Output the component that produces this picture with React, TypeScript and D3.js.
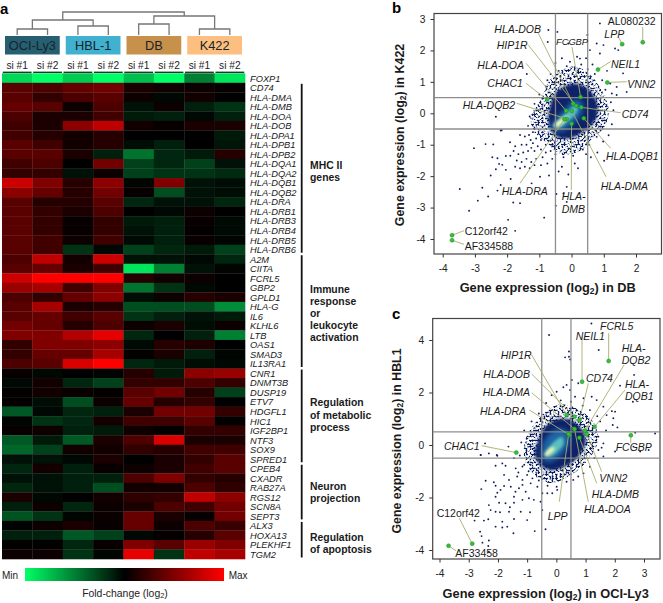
import React, { useEffect, useRef } from 'react';
import * as d3 from 'd3';

type Pt = [number, number];

const columns = ['si #1', 'si #2', 'si #1', 'si #2', 'si #1', 'si #2', 'si #1', 'si #2'];
const cellLines = ['OCI-Ly3', 'HBL-1', 'DB', 'K422'];
const cellLineColors = ['#265f72', '#40b1cf', '#c8914b', '#fcbf80'];

const genes = [
  'FOXP1', 'CD74', 'HLA-DMA', 'HLA-DMB', 'HLA-DOA', 'HLA-DOB', 'HLA-DPA1', 'HLA-DPB1', 'HLA-DPB2', 'HLA-DQA1',
  'HLA-DQA2', 'HLA-DQB1', 'HLA-DQB2', 'HLA-DRA', 'HLA-DRB1', 'HLA-DRB3', 'HLA-DRB4', 'HLA-DRB5', 'HLA-DRB6',
  'A2M', 'CIITA', 'FCRL5', 'GBP2', 'GPLD1', 'HLA-G', 'IL6', 'KLHL6', 'LTB', 'OAS1', 'SMAD3', 'IL13RA1',
  'CNR1', 'DNMT3B', 'DUSP19', 'ETV7', 'HDGFL1', 'HIC1', 'IGF2BP1', 'NTF3', 'SOX9', 'SPRED1',
  'CPEB4', 'CXADR', 'RAB27A', 'RGS12', 'SCN8A', 'SEPT3', 'ALX3', 'HOXA13', 'PLEKHF1', 'TGM2',
];

// fold change in tenths of the colour range, red positive, green negative
const foldChange = [
  [-8.5, -10, -8, -10, -7.5, -10, -5, -9],
  [3.5, 3, 4, 4.5, 1, 0.7, 0.5, 0.3],
  [3.5, 2, 3, 3.5, 0.5, -0.3, 0.7, 0],
  [4, 3.5, 0.5, 3, -0.7, 0.5, -1.2, -2],
  [3, 1, 1, 2.5, -1, -1.2, -0.3, -1.2],
  [2.5, 1, 5.5, 7.5, 0.7, 0.3, 1, 1],
  [2.5, 1.5, 0.7, 1.5, 0, 0, 0, -1],
  [3.5, 2.5, 0.7, 1.5, -0.5, -1.2, 0, -0.8],
  [3.5, 3.5, 1, -1.2, -4.5, -1.5, -1, 1.5],
  [2.5, 3, 0, 4.5, -2.5, -1.5, -2.5, -0.7],
  [2, 2, -0.7, 0.5, -2.5, -2, -2, -1.7],
  [8, 5, 1.5, 5.5, -0.2, 5, -0.7, -0.5],
  [5.5, 4, 1.5, 4.5, 0.3, -3, -0.7, -0.5],
  [3.5, 1.5, 1.5, 3.5, -1.5, -0.7, -0.7, -1.5],
  [3.5, 2, 1, 3, 0, -0.3, 0.5, 0],
  [3.5, 2, 0.3, 2, -1, -1.2, 0.3, -0.4],
  [3.5, 2, 0.3, 2, -0.7, -1.2, 0.2, -0.4],
  [3.5, 2.5, 0.5, 2.5, -0.4, -1.2, 0.3, -0.2],
  [3.5, 2.5, -2, -0.3, -2.5, -1.5, -1, -2.5],
  [3, 7.5, 0.7, 8, -0.7, -0.7, -0.3, -1.5],
  [3.5, 4, 1, 2.5, -9, -5, -0.7, -0.2],
  [8, 10, 10, 10, 1.5, 0.7, 0.5, 0],
  [6, 6.5, 2.5, 5, -4.5, -2, -0.3, 0],
  [3, 2, 4, 5.5, -0.5, 0.5, 1.5, 1],
  [3.5, 6.5, 1, 1.5, -3, -3, -3, -5.5],
  [3.5, 4, 2.5, 3.5, -2, -1.2, -0.7, -1],
  [4.5, 4, 1.5, 3, 0.5, 1, -0.5, 0.5],
  [5, 5, 7, 9, -1.5, 0, -1.2, -5],
  [2, 5, 5, 5.5, -0.4, 1.5, 1.2, 0],
  [2, 4, 4, 6.5, 0.2, 1, -1.2, -0.2],
  [3, 3.5, 8.5, 10, -1.5, -1, -0.5, -0.3],
  [0.3, -0.3, 0, -0.2, 1.5, -1, 5.5, 6],
  [-0.3, 0.7, -1.5, -2.5, 2, 2, 3, 2],
  [0.1, 0.7, 0.4, 0.1, 3.5, 4.5, 1.5, -2.5],
  [0.2, -0.5, -3, 0.5, 4, 1.5, 2, 0],
  [-3.5, -0.3, -1.5, -1.2, 1, 4.5, 4.5, 2],
  [-0.2, -2, -1.5, 0.7, 2.5, 2.5, 3.5, 0.2],
  [0.3, 0.6, -1.2, -1, 0.6, 0.1, 2, 2],
  [-3.5, -1, -3.5, 1, 3, 8.5, 1, 1],
  [-4, -2.5, 0.7, 0.7, 2, 1.5, 2.5, 2.5],
  [-0.7, -0.7, -0.3, 1, 0, 1, 2, 3.5],
  [-1.5, 0.7, -1.2, 0.3, 0.5, 1, 2.5, 3.5],
  [-0.7, -0.7, -1.2, -1.2, 3, 5, 2, 1.5],
  [-1.5, -0.7, -1.2, -3, 0.7, 0.7, 3, 1.8],
  [1, -0.3, 0, 0.7, 1.8, 2, 7.5, 5.5],
  [-1.2, 0.5, -1.5, 0.5, 1, 3, 2.5, 4.5],
  [-3.2, -2, -0.2, 0.4, 4, 1, 0.3, 4.5],
  [-0.1, 0.5, 1, 0.3, 4, 0.5, 3, 2.2],
  [-1.2, -1.2, -3.5, -2.5, -0.3, 0.2, 1.5, 3.5],
  [0.1, 0.1, -1.5, 0.3, 5, 3.5, 6, 5],
  [0.5, 0.5, -2, -0.2, 9, -2, 7.5, 6.5],
];

// merges of the column dendrogram: [left, right, height]; leaves are 0-7, merged nodes continue from 8
const merges = [
  [0, 1, 6],
  [2, 3, 9],
  [4, 5, 11],
  [6, 7, 6],
  [8, 9, 15],
  [10, 11, 19],
  [12, 13, 23],
];

const groups = [
  { first: 'CD74', last: 'HLA-DRB6', lines: ['MHC II', 'genes'] },
  { first: 'A2M', last: 'IL13RA1', lines: ['Immune', 'response', 'or', 'leukocyte', 'activation'] },
  { first: 'CNR1', last: 'SPRED1', lines: ['Regulation', 'of metabolic', 'process'] },
  { first: 'CPEB4', last: 'SEPT3', lines: ['Neuron', 'projection'] },
  { first: 'ALX3', last: 'TGM2', lines: ['Regulation', 'of apoptosis'] },
];
// how far each group's text sits below the middle of its bracket, in pixels
const groupTextShift = [3, 2, -1, 0, 3.5];

// density bands of the two clouds, outer to inner, read as outlines in log2 units
const cloudColors = ['#0c1f5e', '#0d2468', '#1f66a6', '#5cc0bd', '#f6f3b4'];
const cloudB: Pt[][] = [
  [[0.06, 1.5], [0.55, 1.25], [0.95, 0.7], [1.15, 0.15], [1.05, -0.38], [0.68, -0.78], [0.18, -1.25], [-0.38, -1.3], [-0.75, -0.95], [-1.15, -0.6], [-1.28, -0.16], [-0.95, 0.45], [-0.6, 1.15]],
  [[-0.45, 0.7], [0.1, 0.95], [0.55, 0.75], [0.8, 0.3], [0.75, -0.2], [0.35, -0.6], [-0.1, -0.8], [-0.45, -0.75], [-0.7, -0.4], [-0.7, 0.1]],
  [[-0.62, -0.5], [-0.5, -0.18], [-0.2, 0.12], [0.08, 0.42], [0.3, 0.38], [0.35, 0.12], [0.18, -0.2], [-0.05, -0.42], [-0.3, -0.58]],
  [[-0.58, -0.42], [-0.4, -0.22], [-0.15, 0.02], [0.1, 0.25], [0.2, 0.14], [0.08, -0.08], [-0.15, -0.28], [-0.4, -0.47]],
  [[-0.55, -0.38], [-0.4, -0.24], [-0.2, -0.1], [-0.1, -0.12], [-0.25, -0.3], [-0.42, -0.42]],
];
const cloudC: Pt[][] = [
  [[0.18, 1.55], [0.85, 1.3], [1.3, 0.82], [1.42, 0.13], [1.05, -0.62], [0.45, -1.18], [-0.22, -1.45], [-0.8, -1.1], [-1.1, -0.47], [-1.04, 0.27], [-0.68, 0.9], [-0.24, 1.38]],
  [[-0.65, 0.1], [-0.45, 0.6], [-0.05, 0.95], [0.5, 0.95], [0.9, 0.55], [1, 0.05], [0.7, -0.5], [0.25, -0.85], [-0.25, -0.95], [-0.6, -0.7], [-0.75, -0.3]],
  [[-0.5, -0.5], [-0.5, -0.1], [-0.3, 0.35], [0, 0.6], [0.35, 0.55], [0.45, 0.15], [0.25, -0.3], [-0.1, -0.6], [-0.35, -0.65]],
  [[-0.4, -0.4], [-0.25, -0.1], [0, 0.2], [0.2, 0.3], [0.25, 0.05], [0.05, -0.25], [-0.2, -0.45]],
  [[-0.4, -0.38], [-0.3, -0.2], [-0.12, -0.08], [-0.05, -0.15], [-0.2, -0.32], [-0.32, -0.42]],
];

const dotsB: Pt[] = [
  [-2.2, -0.55], [-3.03, -1.11], [-2.67, -0.98], [-2.43, -0.99], [-1.91, -0.92], [-2.04, -1.36], [-2.46, -1.4], [-2.3, -1.43], [-2.25, -1.61], [-2.35, -1.78],
  [-2.51, -1.98], [-2.15, -1.64], [-2.04, -1.8], [-1.89, -2.09], [-2.2, -2.28], [-2.77, -2.37], [-3.47, -2.41], [-2.3, -2.46], [-2.59, -2.65], [-2.91, -2.78],
  [-3.18, -3.1], [-1.81, -2.84], [-1.6, -2.86], [-1.97, -3.39], [-0.85, -3.32], [-1.75, -3.74], [-1.24, -2.23], [-0.98, -2.02], [-0.7, -1.98], [-0.47, -2.57],
  [-0.49, -2.94], [-1.6, -0.69], [-1.45, -0.74], [-1.32, -0.69], [-1.27, -0.85], [-1.2, -0.95], [-1.1, -0.8], [-1.4, -1], [-1.55, -1], [-1.75, -1.05],
  [-1.8, -1.2], [-1.65, -1.3], [-1.5, -1.25], [-1.35, -1.2], [-1.25, -1.1], [-1.15, -1.2], [-1.05, -1.05], [-0.95, -1.15], [-1.9, -1.35], [-1.7, -1.5],
  [-1.55, -1.55], [-1.4, -1.45], [-1.25, -1.55], [-1.45, -1.7], [-1.6, -1.75], [-1.3, -1.75], [-1.1, -1.45], [-0.9, -1.4], [-0.75, -1.6], [-0.95, -1.65],
  [-0.6, -1.45], [-0.8, -1.25], [-0.65, -1.2], [-1.75, -1.7], [-1.15, -1.65], [0.88, 2.86], [-0.72, 2.65], [-0.44, 2.59], [0.49, 2.49], [-0.74, 2.27],
  [-0.1, 2.22], [0.78, 2.22], [0.99, 2.17], [0.57, 2.01], [1.35, 2.06], [1.45, 2.01], [0.88, 1.9], [0.26, 1.74], [0.17, 1.8], [-0.05, 1.64],
  [1.6, 1.27], [1.71, 0.68], [1.4, 0.84], [1.25, 0.63], [1.4, 0.58], [-1.39, 1.25], [-2.35, -0.11], [-2.17, -0.54], [-0.15, -2.34], [-0.25, -2.55],
  [-0.15, -2.82], [1.01, -1.51], [0.6, -1.4], [0.8, -1.25], [0.98, -0.9], [1.15, -0.7], [1.25, -0.35], [1.3, 0.1], [1.22, 0.35], [1.05, 0.75],
  [0.95, 1.05], [0.72, 1.25], [0.5, 1.4], [0.3, 1.55], [-0.15, 1.5], [-0.4, 1.35], [-0.65, 1.25], [-0.8, 0.85], [-1, 0.6], [-1.15, 0.3],
  [-1.3, -0.1], [-1.35, -0.4], [-1.2, -0.6], [-0.95, -0.85], [-0.8, -1], [-0.5, -1.3], [-0.25, -1.4], [0.05, -1.35], [0.35, -1.15], [0.55, -1],
  [0.78, -0.75], [0.1, -1.6], [-0.3, -1.7], [-0.1, -1.95], [-0.4, -1.85], [0.2, -1.75], [0.45, -1.3], [-0.6, -1.05], [-1.02, 0.1], [-0.75, 1.05],
  [0.2, 1.35], [0.65, 1.55], [1.1, 1.35], [1.2, 0.95], [0.45, 1.75], [-0.3, 1.75], [-0.5, 1.6],
];

const dotsC: Pt[] = [
  [-2.59, -0.38], [-2.31, -0.32], [-2.02, -0.41], [-2.08, -0.79], [-1.85, -0.7], [-1.74, -0.79], [-2.42, -1.36], [-2.14, -1.42], [-2.08, -1.55], [-2.57, -1.68],
  [-1.79, -1.14], [-1.62, -1.33], [-1.79, -1.56], [-1.91, -1.71], [-2.02, -1.82], [-2.08, -1.97], [-1.45, -1.97], [-1.56, -1.59], [-1.28, -1.65], [-1.16, -1.52],
  [-1.05, -1.78], [-1.4, -1.78], [-1.74, -2.22], [-1.45, -2.2], [-1.96, -2.2], [-2.31, -2.29], [-2.25, -2.48], [-2.08, -2.54], [-1.93, -2.56], [-1.59, -2.37],
  [-1.62, -2.54], [-1.22, -2.54], [-0.9, -2.56], [-2.8, -2.88], [-2.48, -2.88], [-2.33, -2.83], [-1.85, -2.92], [-1.45, -2.82], [-1, -2.86], [-2.08, -3.11],
  [-1.85, -3.14], [-1.68, -3.11], [-1.47, -3.36], [-0.74, -3.28], [-0.37, -3.21], [-2.61, -3.3], [-2.56, -3.47], [-2.53, -3.72], [-2.31, -3.64], [-2.33, -3.85],
  [-2.31, -4.06], [-0.48, -2.48], [-0.77, -2.09], [-0.54, -2.16], [-0.94, -2.03], [-1.16, -2.09], [-1.39, -0.89], [-1.16, -0.82], [-1.34, -1.2], [-1.16, -1.33],
  [-1, -1.14], [-0.82, -1.27], [-0.65, -1.59], [-0.88, -1.46], [-0.31, -1.84], [-0.48, -1.84], [-0.14, -1.84], [0.03, -1.71], [1.2, 4.63], [-0.25, 4.19],
  [0.43, 3.56], [0.43, 3.36], [0.47, 3.26], [0.3, 3.34], [1.45, 3.62], [2.66, 2.67], [2.18, 2.26], [2.62, 1.65], [2.01, 1.27], [1.9, 1.29],
  [1.72, 1.14], [1.95, 1.02], [1.93, 0.76], [2.09, 0.67], [3.38, 0.44], [2.7, 0.47], [2.64, -0.06], [2.01, -0.25], [2.87, -0.25], [3.16, -0.19],
  [1.44, -0.19], [1.61, -0.44], [-2.44, 0.06], [-2.59, -0.38], [-2.04, -0.38], [-1.64, -0.06], [0.75, 2.35], [0.53, 2.48], [0.35, 2.29], [0.24, 2.2],
  [0.01, 2.03], [-0.16, 1.9], [0.47, 2.1], [0.64, 1.84], [0.93, 1.78], [1.21, 1.84], [1.38, 1.71], [1.61, 1.46], [1.15, 1.33], [1.44, 0.32],
  [1.61, 0.06], [1.15, -0.83], [0.93, -1.08], [0.58, -1.33], [0.35, -1.4], [0.01, -1.59], [0.75, -1.2], [1.3, -0.5], [1.5, 0.9], [1.4, 1.1],
  [0.9, 1.5], [0.5, 1.65], [0.15, 1.7], [-0.35, 1.6], [-0.6, 1.2], [-0.85, 0.9], [-1.1, 0.55], [-1.2, 0.1], [-1.25, -0.4], [-1.1, -0.75],
  [-0.95, -1], [-0.6, -1.35], [-0.3, -1.55], [-1.3, -1.05], [-1.45, -0.5], [1.7, 0.55], [1.55, -0.1],
];

const namedB: [string, number, number][] = [
  ['AL080232', 2.21, 2.26], ['LPP', 1.57, 2.2], ['NEIL1', 0.82, 1.39], ['VNN2', 1.11, 0.98], ['FCGBP', 0.28, 0.52],
  ['CHAC1', -0.76, 0.43], ['HLA-DOB', 0.05, 0.31], ['HIP1R', 0.14, 0.24], ['CD74', 0.3, 0.19], ['HLA-DOA', -0.17, 0.08],
  ['HLA-DMA', 0.01, 0.07], ['HLA-DQB1', 0.38, -0.16], ['HLA-DQB2', -0.15, -0.18], ['HLA-DRA', -0.22, -0.19], ['HLA-DMB', 0, -0.33],
  ['C12orf42', -3.71, -3.88], ['AF334588', -3.71, -4.04],
];
const namedC: [string, number, number][] = [
  ['FCRL5', 1.79, 3.2], ['NEIL1', 0.88, 2.41], ['HIP1R', 0.35, 1.14], ['HLA-DOB', 0.62, 1.08], ['CD74', 0.79, 0.95],
  ['HLA-DMA', 0.62, 0.61], ['HLA-DOA', 0.62, 0.61], ['HLA-DQB1', 1.31, 0.7], ['HLA-DQB2', 0.98, 0.55], ['VNN2', 1.04, 0.42],
  ['HLA-DRA', 0.45, 0.38], ['LPP', 0.42, 0.42], ['HLA-DMB', 0.79, 0.28], ['FCGBP', 2.55, 0.37], ['CHAC1', -1.37, -0.29],
  ['C12orf42', -2.88, -3.76], ['AF33458', -3.69, -3.84],
];

// annotation layout, page pixels: where each leader ends and the centre line of the label text
type Note = { gene: string; end: Pt; at: Pt; lines?: string[]; upright?: boolean; size?: number };
const notesB: Note[] = [
  { gene: 'AL080232', end: [642.7, 27], at: [607.7, 21.5], upright: true },
  { gene: 'LPP', end: [619, 38], at: [604.3, 34.5] },
  { gene: 'NEIL1', end: [610.7, 61.5], at: [611, 64] },
  { gene: 'VNN2', end: [626.7, 81.7], at: [627.3, 84] },
  { gene: 'FCGBP', end: [572, 47], at: [556, 41], size: 9.3 },
  { gene: 'HLA-DOB', end: [538.3, 33.3], at: [494.3, 29] },
  { gene: 'HIP1R', end: [528.3, 45], at: [496.7, 45.7] },
  { gene: 'HLA-DOA', end: [526, 63.3], at: [477.3, 65] },
  { gene: 'CHAC1', end: [526, 83.3], at: [487.3, 83.3] },
  { gene: 'HLA-DQB2', end: [516.7, 103.3], at: [462.7, 105] },
  { gene: 'CD74', end: [620.7, 112.7], at: [621.7, 114.3] },
  { gene: 'HLA-DQB1', end: [610.7, 148.3], at: [606, 156.7] },
  { gene: 'HLA-DMA', end: [606, 176.7], at: [600.7, 186] },
  { gene: 'HLA-DMB', end: [571.3, 190], at: [561.7, 196.7], lines: ['HLA-', 'DMB'] },
  { gene: 'HLA-DRA', end: [520, 183.3], at: [501.7, 191.7] },
  { gene: 'C12orf42', end: [464, 230.7], at: [464.7, 231], upright: true },
  { gene: 'AF334588', end: [464, 244.3], at: [464.7, 246.3], upright: true },
];
const notesC: Note[] = [
  { gene: 'FCRL5', end: [608.7, 333.3], at: [600, 326] },
  { gene: 'NEIL1', end: [582, 336.7], at: [575.7, 336.7] },
  { gene: 'HLA-DQB2', end: [624, 365], at: [621.7, 348.3], lines: ['HLA-', 'DQB2'] },
  { gene: 'HIP1R', end: [531.7, 355], at: [500.7, 355] },
  { gene: 'HLA-DOB', end: [531.7, 374], at: [483.3, 374] },
  { gene: 'CD74', end: [588.3, 383.3], at: [586, 378.7] },
  { gene: 'HLA-DQB1', end: [625, 390], at: [625, 384], lines: ['HLA-', 'DQB1'] },
  { gene: 'HLA-DMA', end: [531.7, 392.7], at: [482.7, 392.7] },
  { gene: 'HLA-DRA', end: [529.3, 410], at: [480, 411.3] },
  { gene: 'CHAC1', end: [481.7, 445.7], at: [444, 446.7] },
  { gene: 'FCGBP', end: [630.7, 443], at: [615.7, 447.7] },
  { gene: 'VNN2', end: [601.7, 471.7], at: [599.3, 478.3] },
  { gene: 'HLA-DMB', end: [596.7, 483.3], at: [591.7, 494.3] },
  { gene: 'HLA-DOA', end: [588.3, 501.7], at: [584, 509.3] },
  { gene: 'LPP', end: [559.3, 501.7], at: [547.7, 516] },
  { gene: 'C12orf42', end: [459.3, 518.3], at: [436.7, 513.3], upright: true },
  { gene: 'AF33458', end: [456, 550.7], at: [455.3, 553.3], upright: true },
];

const FONT = '"Liberation Sans", Arial, sans-serif';
const heat = d3.scaleLinear<string>().domain([-10, 0, 10]).range(['#00ff66', '#000000', '#ff0000']);

const Log2Title = ({ pre, post, ...rest }: any) => (
  <text fontFamily={FONT} fontWeight="bold" textAnchor="middle" fill="#1a1a1a" {...rest}>
    {pre}
    <tspan fontSize={8.5} dy={2}>2</tspan>
    <tspan dy={-2}>{post}</tspan>
  </text>
);

const Heatmap = () => {
  const x = d3.scaleBand<number>().domain(d3.range(columns.length)).range([2, 245]);
  const y = d3.scaleBand<string>().domain(genes.slice(1)).range([82.8, 559]);
  const foxY = d3.scaleBand<string>().domain(['FOXP1']).range([73.3, 82.8]);
  const rowY = (g: string) => (g === 'FOXP1' ? (foxY(g) as number) : (y(g) as number));
  const rowH = y.bandwidth();
  const dendY = d3.scaleLinear().domain([0, 23]).range([35, 12]);

  const nodes: { x: number; h: number }[] = columns.map((_, i) => ({ x: (x(i) as number) + x.bandwidth() / 2, h: 0 }));
  const links = merges.map(([a, b, h]) => {
    const l = nodes[a];
    const r = nodes[b];
    nodes.push({ x: (l.x + r.x) / 2, h });
    return `M${l.x},${dendY(l.h)}V${dendY(h)}H${r.x}V${dendY(r.h)}`;
  });

  const legendX = d3.scaleLinear().domain([-10, 10]).range([25, 224]);

  return (
    <g fontFamily={FONT}>
      <text x={0} y={14} fontSize={15} fontWeight="bold">a</text>
      <path d={links.join('')} fill="none" stroke="#777" strokeWidth={1.3} />
      {cellLines.map((name, i) => (
        <g key={name}>
          <rect x={(x(i * 2) as number) + 3} y={36} width={x.bandwidth() * 2 - 6} height={18.5} fill={cellLineColors[i]} />
          <text x={(x(i * 2) as number) + x.bandwidth()} y={49.7} textAnchor="middle" fontSize={12.8} fill="#16242a">{name}</text>
        </g>
      ))}
      {columns.map((c, i) => (
        <g key={i}>
          <text x={(x(i) as number) + x.bandwidth() / 2} y={68.5} textAnchor="middle" fontSize={10.2} fill="#222">{c}</text>
          <rect x={(x(i) as number) + 0.8} y={71.6} width={x.bandwidth() - 1.6} height={1.5} fill="#1f3a2c" />
        </g>
      ))}
      {foldChange.map((row, r) =>
        row.map((v, c) => (
          <rect key={`${r}-${c}`} x={x(c)} y={rowY(genes[r])} width={x.bandwidth() + 0.3} height={rowH + 0.3} fill={heat(v)} />
        )),
      )}
      {genes.map((g) => (
        <text key={g} x={250} y={rowY(g) + rowH / 2 + 3.6} fontSize={9.3} fontStyle="italic" fill="#1a1a1a">{g}</text>
      ))}
      {groups.map((g, gi) => {
        const y0 = rowY(g.first) + 1;
        const y1 = rowY(g.last) + rowH - 1.5;
        const mid = (y0 + y1) / 2 - ((g.lines.length - 1) * 12.2) / 2 + groupTextShift[gi];
        return (
          <g key={g.first}>
            <line x1={301.7} x2={301.7} y1={y0} y2={y1} stroke="#111" strokeWidth={1.8} />
            {g.lines.map((t, i) => (
              <text key={i} x={310} y={mid + i * 12.2 + 3.8} fontSize={10.4} fontWeight="bold" fill="#1a1a1a">{t}</text>
            ))}
          </g>
        );
      })}
      <defs>
        <linearGradient id="foldGrad">
          {legendX.ticks(2).map((t) => (
            <stop key={t} offset={`${((t + 10) / 20) * 100}%`} stopColor={heat(t)} />
          ))}
        </linearGradient>
      </defs>
      <rect x={legendX(-10)} y={568} width={legendX(10) - legendX(-10)} height={13} fill="url(#foldGrad)" />
      <text x={2} y={579} fontSize={10} fill="#222">Min</text>
      <text x={228.7} y={579} fontSize={10} fill="#222">Max</text>
      <text x={125} y={596.5} fontSize={10.4} textAnchor="middle" fill="#222">
        Fold-change (log<tspan fontSize={7.5} dy={1.5}>2</tspan><tspan dy={-1.5}>)</tspan>
      </text>
    </g>
  );
};

const Scatter = ({ id, letter, letterY, frame, xDomain, yDomain, cloud, dots, named, notes, xTitle, yTitle, xTicks, yTicks }: any) => {
  const [fx0, fy0, fx1, fy1] = frame;
  const sx = d3.scaleLinear().domain(xDomain[0]).range(xDomain[1]);
  const sy = d3.scaleLinear().domain(yDomain[0]).range(yDomain[1]);
  const xAxisRef = useRef<SVGGElement>(null);
  const yAxisRef = useRef<SVGGElement>(null);
  useEffect(() => {
    if (xAxisRef.current && yAxisRef.current) {
      const fmt = (d: any) => String(d);
      const gx = d3.select(xAxisRef.current).call(d3.axisBottom(sx).tickValues(xTicks).tickSize(3.5).tickPadding(7).tickFormat(fmt) as any);
      const gy = d3.select(yAxisRef.current).call(d3.axisLeft(sy).tickValues(yTicks).tickSize(3.5).tickPadding(5).tickFormat(fmt) as any);
      [gx, gy].forEach((g: any) => {
        g.select('.domain').remove();
        g.selectAll('text').attr('font-family', FONT).attr('font-size', 10.2).attr('fill', '#222');
        g.selectAll('line').attr('stroke', '#333');
      });
    }
  });
  const outline = d3.line<Pt>().x((d) => sx(d[0])).y((d) => sy(d[1])).curve(d3.curveCatmullRomClosed);
  const byGene = new Map<string, number[]>(named.map((n: any) => [n[0], [n[1], n[2]]]));
  return (
    <g fontFamily={FONT}>
      <defs>
        {/* the sparse rim of the cloud: the outer band is broken into grains */}
        <filter id={`speck${id}`} x="-10%" y="-10%" width="120%" height="120%">
          <feTurbulence type="fractalNoise" baseFrequency="0.5" numOctaves="1" seed="7" result="n" />
          <feColorMatrix in="n" type="matrix" values="0 0 0 0 0  0 0 0 0 0  0 0 0 0 0  9 0 0 0 -4.3" result="grain" />
          <feComposite in="SourceGraphic" in2="grain" operator="in" />
        </filter>
        <filter id={`soft${id}`} x="-30%" y="-30%" width="160%" height="160%">
          <feGaussianBlur stdDeviation="1.5" />
        </filter>
        <filter id={`wide${id}`} x="-40%" y="-40%" width="180%" height="180%">
          <feGaussianBlur stdDeviation="2.6" />
        </filter>
      </defs>
      <text x={392} y={letterY} fontSize={15} fontWeight="bold">{letter}</text>
      {cloud.map((band: Pt[], i: number) => (
        <path key={i} d={outline(band) as string} fill={cloudColors[i]} filter={`url(#${i === 0 ? 'speck' : i === 2 ? 'wide' : 'soft'}${id})`} />
      ))}
      {dots.map((d: Pt, i: number) => (
        <circle key={i} cx={sx(d[0])} cy={sy(d[1])} r={0.95} fill="#101f60" />
      ))}
      <rect x={fx0} y={fy0} width={fx1 - fx0} height={fy1 - fy0} fill="none" stroke="#444" strokeWidth={1.2} />
      {[-0.5, 0.5].map((v) => (
        <g key={v} stroke="#888" strokeWidth={1.3} opacity={0.95}>
          <line x1={sx(v)} x2={sx(v)} y1={fy0} y2={fy1} />
          <line x1={fx0} x2={fx1} y1={sy(v)} y2={sy(v)} />
        </g>
      ))}
      {notes.map((n: Note) => {
        const p = byGene.get(n.gene) as number[];
        return <line key={n.gene} x1={sx(p[0])} y1={sy(p[1])} x2={n.end[0]} y2={n.end[1]} stroke="#a8ad6c" strokeWidth={0.9} />;
      })}
      {named.map((n: any) => (
        <circle key={n[0]} cx={sx(n[1])} cy={sy(n[2])} r={2} fill="#35c035" stroke="#1d8a2a" strokeWidth={0.5} />
      ))}
      {notes.map((n: Note) =>
        (n.lines || [n.gene]).map((t, i) => (
          <text key={n.gene + i} x={n.at[0]} y={n.at[1] + 3.7 + i * 12.4} fontSize={n.size || 10.5} fontStyle={n.upright ? 'normal' : 'italic'} fill="#1a1a1a">{t}</text>
        )),
      )}
      <g ref={xAxisRef} transform={`translate(0,${fy1})`} />
      <g ref={yAxisRef} transform={`translate(${fx0},0)`} />
      <Log2Title x={xTitle[0]} y={xTitle[1]} fontSize={12.8} pre={xTitle[2]} post={xTitle[3]} />
      <Log2Title transform={`translate(${yTitle[0]},${yTitle[1]}) rotate(-90)`} fontSize={12.4} pre={yTitle[2]} post={yTitle[3]} />
    </g>
  );
};

export default function App() {
  return (
    <svg width={663} height={603} style={{ position: 'absolute', left: 0, top: 0, background: '#fff' }}>
      <Heatmap />
      <Scatter
        id="b"
        letter="b"
        letterY={13}
        frame={[434, 13.5, 661.5, 254]}
        xDomain={[[-4, 2], [442.7, 636]]}
        yDomain={[[-4, 3], [239, 19]]}
        cloud={cloudB}
        dots={dotsB}
        named={namedB}
        notes={notesB}
        xTitle={[547.7, 292, 'Gene expression (log', ') in DB']}
        yTitle={[404, 135, 'Gene expression (log', ') in K422']}
        xTicks={[-4, -3, -2, -1, 0, 1, 2]}
        yTicks={[-4, -3, -2, -1, 0, 1, 2, 3]}
      />
      <Scatter
        id="c"
        letter="c"
        letterY={319}
        frame={[432.7, 318.5, 660, 559]}
        xDomain={[[-4, 3], [439.5, 644]]}
        yDomain={[[-4, 4], [550, 340]]}
        cloud={cloudC}
        dots={dotsC}
        named={namedC}
        notes={notesC}
        xTitle={[545.7, 598, 'Gene expression (log', ') in OCI-Ly3']}
        yTitle={[401, 441, 'Gene expression (log', ') in HBL1']}
        xTicks={[-4, -3, -2, -1, 0, 1, 2, 3]}
        yTicks={[-4, -2, 0, 2, 4]}
      />
    </svg>
  );
}
